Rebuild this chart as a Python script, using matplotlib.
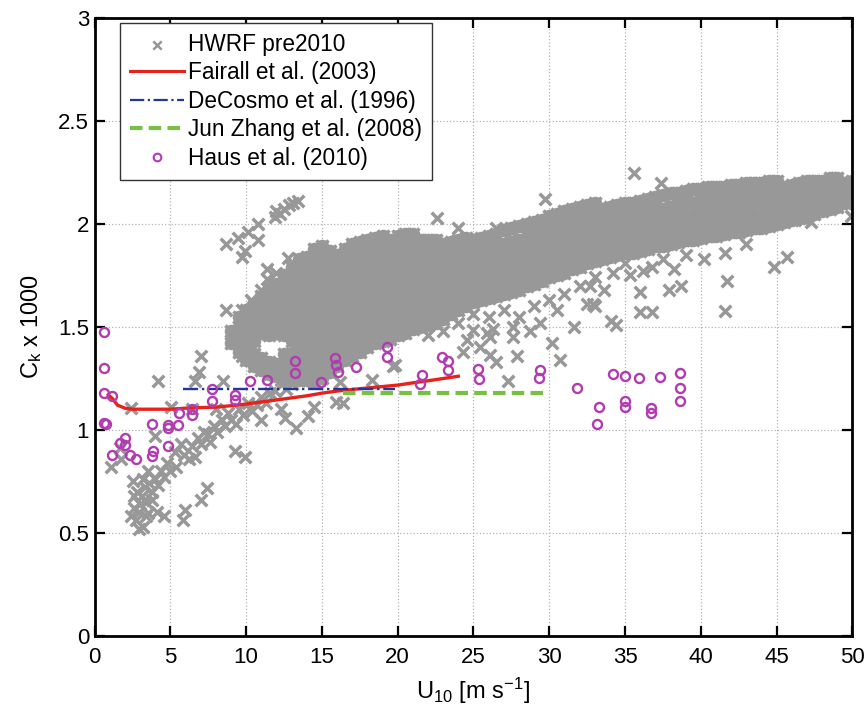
import numpy as np
import matplotlib
matplotlib.use("Agg")
from matplotlib import pyplot as plt

# HWRF pre2010 dense band: one column of Ck values per U10 position
band_u = [9.0, 9.5, 10.0, 10.5, 11.0, 11.5, 12.0, 12.5, 13.0, 13.5, 14.0, 14.5, 15.0, 15.5,
          16.0, 16.5, 17.0, 17.5, 18.0, 18.5, 19.0, 19.5, 20.0, 20.5, 21.0, 21.5, 22.0, 22.5,
          23.0, 23.5, 24.0, 24.5, 25.0, 25.5, 26.0, 26.5, 27.0, 27.5, 28.0, 28.5, 29.0, 29.5,
          30.0, 30.5, 31.0, 31.5, 32.0, 32.5, 33.0, 33.5, 34.0, 34.5, 35.0, 35.5, 36.0, 36.5,
          37.0, 37.5, 38.0, 38.5, 39.0, 39.5, 40.0, 40.5, 41.0, 41.5, 42.0, 42.5, 43.0, 43.5,
          44.0, 44.5, 45.0, 45.5, 46.0, 46.5, 47.0, 47.5, 48.0, 48.5, 49.0, 49.5, 50.0]
band_ck = [
    [1.42, 1.48],
    [1.38, 1.44, 1.50, 1.55],
    [1.34, 1.40, 1.46, 1.52, 1.58],
    [1.31, 1.37, 1.43, 1.49, 1.55, 1.61],
    [1.29, 1.35, 1.47, 1.53, 1.59, 1.65],
    [1.27, 1.33, 1.46, 1.52, 1.58, 1.64, 1.69],
    [1.26, 1.32, 1.47, 1.53, 1.59, 1.65, 1.71],
    [1.25, 1.31, 1.37, 1.46, 1.52, 1.58, 1.64, 1.70, 1.75],
    [1.25, 1.31, 1.37, 1.43, 1.49, 1.55, 1.61, 1.67, 1.73, 1.79],
    [1.24, 1.30, 1.36, 1.42, 1.48, 1.54, 1.60, 1.66, 1.72, 1.78, 1.83],
    [1.24, 1.30, 1.36, 1.42, 1.48, 1.54, 1.60, 1.66, 1.72, 1.78, 1.84],
    [1.23, 1.29, 1.35, 1.41, 1.47, 1.53, 1.59, 1.65, 1.71, 1.77, 1.83, 1.88],
    [1.25, 1.31, 1.37, 1.43, 1.49, 1.55, 1.61, 1.67, 1.73, 1.79, 1.85, 1.89],
    [1.28, 1.34, 1.40, 1.46, 1.52, 1.58, 1.64, 1.70, 1.76, 1.82, 1.87],
    [1.31, 1.37, 1.43, 1.49, 1.55, 1.61, 1.67, 1.73, 1.79, 1.85],
    [1.34, 1.40, 1.46, 1.52, 1.58, 1.64, 1.70, 1.76, 1.82, 1.88],
    [1.36, 1.42, 1.48, 1.54, 1.60, 1.66, 1.72, 1.78, 1.84, 1.90],
    [1.38, 1.44, 1.50, 1.56, 1.62, 1.68, 1.74, 1.80, 1.86, 1.91],
    [1.40, 1.46, 1.52, 1.58, 1.64, 1.70, 1.76, 1.82, 1.88, 1.92],
    [1.42, 1.48, 1.54, 1.60, 1.66, 1.72, 1.78, 1.84, 1.90, 1.93],
    [1.43, 1.49, 1.55, 1.61, 1.67, 1.73, 1.79, 1.85, 1.91, 1.94],
    [1.44, 1.50, 1.56, 1.62, 1.68, 1.74, 1.80, 1.86, 1.92],
    [1.46, 1.52, 1.58, 1.64, 1.70, 1.76, 1.82, 1.88, 1.94],
    [1.47, 1.53, 1.59, 1.65, 1.71, 1.77, 1.83, 1.89, 1.95],
    [1.49, 1.55, 1.61, 1.67, 1.73, 1.79, 1.85, 1.91, 1.95],
    [1.50, 1.56, 1.62, 1.68, 1.74, 1.80, 1.86, 1.92],
    [1.51, 1.57, 1.63, 1.69, 1.75, 1.81, 1.87, 1.92],
    [1.52, 1.58, 1.64, 1.70, 1.76, 1.82, 1.88, 1.92],
    [1.54, 1.60, 1.66, 1.72, 1.78, 1.84, 1.90],
    [1.56, 1.62, 1.68, 1.74, 1.80, 1.86, 1.91],
    [1.58, 1.64, 1.70, 1.76, 1.82, 1.88, 1.92],
    [1.60, 1.66, 1.72, 1.78, 1.84, 1.90, 1.93],
    [1.62, 1.68, 1.74, 1.80, 1.86, 1.92],
    [1.63, 1.69, 1.75, 1.81, 1.87, 1.93],
    [1.64, 1.70, 1.76, 1.82, 1.88, 1.94],
    [1.65, 1.71, 1.77, 1.83, 1.89, 1.95],
    [1.66, 1.72, 1.78, 1.84, 1.90, 1.97],
    [1.67, 1.73, 1.79, 1.85, 1.91, 1.98],
    [1.68, 1.74, 1.80, 1.86, 1.92, 1.99],
    [1.70, 1.76, 1.82, 1.88, 1.94, 2.00],
    [1.71, 1.77, 1.83, 1.89, 1.95, 2.01],
    [1.72, 1.78, 1.84, 1.90, 1.96, 2.02],
    [1.74, 1.80, 1.86, 1.92, 1.98, 2.04],
    [1.75, 1.81, 1.87, 1.93, 1.99, 2.05],
    [1.76, 1.82, 1.88, 1.94, 2.00, 2.06],
    [1.78, 1.84, 1.90, 1.96, 2.02, 2.07],
    [1.79, 1.85, 1.91, 1.97, 2.03, 2.08],
    [1.81, 1.87, 1.93, 1.99, 2.05, 2.09],
    [1.82, 1.88, 1.94, 2.00, 2.06, 2.10],
    [1.83, 1.89, 1.95, 2.01, 2.07],
    [1.84, 1.90, 1.96, 2.02, 2.08],
    [1.85, 1.91, 1.97, 2.03, 2.09],
    [1.86, 1.92, 1.98, 2.04, 2.10],
    [1.86, 1.92, 1.98, 2.04, 2.10],
    [1.87, 1.93, 1.99, 2.05, 2.11],
    [1.88, 1.94, 2.00, 2.06, 2.12],
    [1.89, 1.95, 2.01, 2.07, 2.13],
    [1.89, 1.95, 2.01, 2.07, 2.14],
    [1.90, 1.96, 2.02, 2.08, 2.15],
    [1.91, 1.97, 2.03, 2.09, 2.15],
    [1.92, 1.98, 2.04, 2.10, 2.16],
    [1.92, 1.98, 2.04, 2.10, 2.17],
    [1.93, 1.99, 2.05, 2.11, 2.17],
    [1.94, 2.00, 2.06, 2.12, 2.18],
    [1.94, 2.00, 2.06, 2.12, 2.18],
    [1.95, 2.01, 2.07, 2.13, 2.18],
    [1.96, 2.02, 2.08, 2.14, 2.19],
    [1.96, 2.02, 2.08, 2.14, 2.19],
    [1.97, 2.03, 2.09, 2.15, 2.20],
    [1.98, 2.04, 2.10, 2.16, 2.20],
    [1.98, 2.04, 2.10, 2.16, 2.20],
    [1.99, 2.05, 2.11, 2.17, 2.21],
    [2.00, 2.06, 2.12, 2.17, 2.21],
    [2.01, 2.07, 2.13, 2.18],
    [2.02, 2.08, 2.14, 2.19],
    [2.03, 2.09, 2.15, 2.20],
    [2.04, 2.10, 2.16, 2.21],
    [2.05, 2.11, 2.17, 2.21],
    [2.06, 2.12, 2.18, 2.21],
    [2.07, 2.13, 2.18, 2.22],
    [2.08, 2.14, 2.19, 2.22],
    [2.10, 2.15, 2.20],
    [2.12, 2.17, 2.21],
]

# HWRF pre2010 points outside the dense band (low-wind arm, tail and strays)
hwrf_u = [2.9, 3.1, 3.3, 3.6, 4.0, 4.4, 4.8, 5.3, 5.7, 6.2, 6.6, 7.0, 7.5, 7.9, 8.4, 8.8, 9.5, 10.1,
          11.0, 11.9, 12.3, 3.4, 3.8, 4.2, 4.6, 5.0, 5.4, 5.9, 6.4, 6.8, 7.2, 7.6, 8.1, 8.6, 9.0,
          9.3, 9.8, 10.4, 10.7, 11.3, 11.6, 12.6, 13.0,
          2.6, 2.7, 2.9, 3.2, 3.0, 3.4, 2.8, 3.5, 3.8, 4.1, 2.5, 2.6, 3.2, 2.4,
          4.18, 7.0, 6.9, 6.6, 8.5, 3.96, 2.4, 5.07, 6.4, 8.0, 1.1, 1.76, 1.65, 7.4, 7.05, 5.95,
          5.83, 4.6, 3.5, 9.25, 9.9, 11.0, 12.55, 13.3, 14.1, 14.5, 15.96, 12.3, 9.7, 9.7, 8.7, 9.7,
          8.7, 9.47, 10.1, 10.8, 10.8, 9.7, 9.9,
          11.9, 12.2, 12.5, 12.8, 13.1, 13.4, 12.0,
          12.75, 13.2, 12.35, 11.4, 11.0, 10.35, 11.4, 12.0,
          29.7, 22.6, 24.0, 26.5, 17.1, 17.5,
          18.3, 16.2, 16.4, 19.7, 17.5, 19.8,
          27.6, 28.7, 30.2, 30.7, 27.3, 27.85, 26.5, 26.1, 24.3, 25.4, 24.55, 25.9, 26.3, 31.6,
          29.4, 32.5, 33.0, 25.0, 26.1, 27.6, 23.0, 22.0, 24.0, 28.0, 29.0, 30.0, 31.0, 30.5,
          27.0, 26.0, 25.0, 32.0, 33.0,
          35.6, 37.4, 36.0, 36.0, 36.8, 34.1, 34.4, 37.9, 38.7, 41.7, 41.6, 44.8, 45.7, 41.6,
          40.2, 35.3, 36.2, 36.8, 38.2, 32.9, 33.6, 34.2, 32.7, 49.9, 46.8, 47.3, 39.0, 43.0,
          35.0, 37.5]
hwrf_ck = [0.60, 0.68, 0.72, 0.74, 0.76, 0.80, 0.84, 0.89, 0.93, 0.86, 0.87, 0.93, 0.98, 1.02, 1.05,
           1.08, 1.10, 1.13, 1.16, 1.19, 1.24, 0.65, 0.70, 0.73, 0.77, 0.80, 0.82, 0.88, 0.92, 0.96,
           0.99, 0.94, 0.99, 1.02, 1.05, 1.03, 1.07, 1.09, 1.12, 1.13, 1.18, 1.20, 1.22,
           0.62, 0.56, 0.52, 0.53, 0.64, 0.58, 0.70, 0.80, 0.66, 0.60, 0.75, 0.68, 0.76, 0.58,
           1.235, 1.36, 1.28, 1.235, 1.235, 0.968, 1.105, 1.113, 1.10, 1.10, 0.82, 0.86, 0.91,
           0.717, 0.66, 0.61, 0.563, 0.58, 0.596, 0.895, 0.87, 1.05, 1.057, 1.008, 1.065, 1.113,
           1.137, 1.10, 1.356, 1.485, 1.58, 1.58,
           1.90, 1.93, 1.96, 2.00, 1.92, 1.84, 1.87,
           2.035, 2.05, 2.07, 2.09, 2.10, 2.11, 2.06,
           1.835, 1.79, 1.74, 1.73, 1.68, 1.63, 1.78, 1.76,
           2.12, 2.03, 1.98, 1.98, 1.88, 1.87,
           1.24, 1.23, 1.13, 1.31, 1.39, 1.315,
           1.45, 1.48, 1.42, 1.34, 1.235, 1.356, 1.33, 1.365, 1.38, 1.40, 1.437, 1.47, 1.49, 1.50,
           1.52, 1.61, 1.60, 1.485, 1.45, 1.50, 1.48, 1.46, 1.52, 1.55, 1.60, 1.63, 1.66, 1.58,
           1.58, 1.55, 1.56, 1.70, 1.74,
           2.246, 2.20, 1.67, 1.57, 1.57, 1.53, 1.51, 1.68, 1.70, 1.72, 1.575, 1.79, 1.84, 1.86,
           1.83, 1.75, 1.77, 1.79, 1.78, 1.61, 1.68, 1.76, 1.70, 2.04, 2.02, 2.01, 1.85, 1.90,
           1.81, 1.83]

# Fairall et al. (2003)
fairall_u = [0.9, 1.2, 1.5, 2.0, 2.5, 3.0, 4.0, 5.0, 6.0, 7.0, 8.0, 9.0, 10.0, 11.0, 12.0, 13.0,
             14.0, 15.0, 16.0, 17.0, 18.0, 19.0, 20.0, 21.0, 22.0, 23.0, 24.0]
fairall_ck = [1.17, 1.15, 1.12, 1.105, 1.10, 1.10, 1.10, 1.10, 1.105, 1.108, 1.11, 1.117, 1.125,
              1.135, 1.145, 1.155, 1.165, 1.178, 1.188, 1.196, 1.203, 1.21, 1.217, 1.228, 1.238,
              1.249, 1.26]

# DeCosmo et al. (1996) and Jun Zhang et al. (2008)
decosmo_u = [5.8, 19.8]
decosmo_ck = [1.2, 1.2]
zhang_u = [16.4, 29.8]
zhang_ck = [1.18, 1.18]

# Haus et al. (2010)
haus_u = [0.61, 0.61, 0.61, 1.17, 0.73, 0.65, 3.81, 1.98, 1.65, 1.98, 1.17, 2.31, 2.71, 3.85, 3.81,
          4.84, 4.84, 4.84, 5.5, 5.57, 6.45, 6.45, 7.77, 7.77, 9.25, 9.25, 10.28, 11.38, 13.21, 13.21,
          14.97, 15.85, 15.96, 16.07, 17.28, 19.26, 19.26, 21.57, 21.47, 22.9, 23.34, 23.34, 25.32,
          25.39, 29.39, 29.35, 31.8, 33.25, 33.14, 34.2, 35.0, 35.0, 35.0, 35.9, 36.72, 36.72,
          37.32, 38.64, 38.64, 38.64]
haus_ck = [1.477, 1.30, 1.18, 1.165, 1.03, 1.035, 1.03, 0.96, 0.935, 0.927, 0.88, 0.88, 0.86, 0.895,
           0.874, 1.024, 1.008, 0.92, 1.024, 1.08, 1.10, 1.073, 1.198, 1.142, 1.17, 1.146, 1.235,
           1.243, 1.336, 1.275, 1.23, 1.348, 1.316, 1.283, 1.307, 1.404, 1.353, 1.267, 1.223, 1.353,
           1.336, 1.288, 1.295, 1.246, 1.288, 1.251, 1.202, 1.113, 1.03, 1.272, 1.259, 1.142, 1.113,
           1.251, 1.105, 1.084, 1.256, 1.275, 1.202, 1.141]


def main() -> None:
    plt.rcParams['font.family'] = ['Liberation Sans', 'DejaVu Sans']
    plt.rcParams['mathtext.default'] = 'regular'

    fig = plt.figure(figsize=(8.68, 7.12), dpi=100)
    ax = fig.add_axes([0.109, 0.107, 0.873, 0.868])

    # flatten the band columns
    band_x = np.concatenate([np.full(len(c), u) for u, c in zip(band_u, band_ck)])
    band_y = np.concatenate([np.array(c) for c in band_ck])

    gray = '#989898'
    # the band is so dense in the original that the crosses merge into one patch
    ax.scatter(band_x, band_y, marker='o', s=95, linewidths=0, color=gray, zorder=2)
    ax.scatter(band_x, band_y, marker='x', s=75, linewidths=2.5, color=gray, zorder=2)
    ax.scatter(hwrf_u, hwrf_ck, marker='x', s=70, linewidths=2.5, color=gray, zorder=2)

    ax.plot(fairall_u, fairall_ck, color='#e8221b', lw=2.4, zorder=3)
    ax.plot(decosmo_u, decosmo_ck, color='#23379a', lw=1.7, ls='-.', zorder=3)
    ax.plot(zhang_u, zhang_ck, color='#76c043', lw=3.0, ls=(0, (3, 1.5)), zorder=3)
    ax.plot(haus_u, haus_ck, ls='none', marker='o', ms=6.5, mfc='none', mec='#b03cb0', mew=1.7, zorder=4)

    ax.set_xlim(0, 50)
    ax.set_ylim(0, 3)
    ax.set_xticks(range(0, 51, 5))
    ax.set_yticks([0, 0.5, 1, 1.5, 2, 2.5, 3])
    ax.set_yticklabels(['0', '0.5', '1', '1.5', '2', '2.5', '3'])
    ax.grid(True, ls=':', color='#b4b4b4', lw=0.9)
    ax.set_axisbelow(True)
    ax.tick_params(direction='in', length=7, width=1.6, top=True, right=True, labelsize=16)
    ax.tick_params(axis='x', pad=8)
    ax.tick_params(axis='y', pad=4)
    for sp in ax.spines.values():
        sp.set_linewidth(2)

    ax.set_xlabel(r'U$_{10}$ [m s$^{-1}$]', fontsize=17, labelpad=6)
    ax.set_ylabel(r'C$_{k}$ x 1000', fontsize=17, labelpad=10)

    # legend handles built the same way as the plotted series
    h_hwrf = ax.scatter([], [], marker='x', s=36, linewidths=1.8, color=gray)
    h_fair, = ax.plot([], [], color='#e8221b', lw=2.2)
    h_deco, = ax.plot([], [], color='#23379a', lw=1.6, ls='-.')
    h_zh, = ax.plot([], [], color='#76c043', lw=3.0, ls=(0, (3, 1.5)))
    h_haus, = ax.plot([], [], ls='none', marker='o', ms=5.5, mfc='none', mec='#b03cb0', mew=1.5)
    leg = ax.legend([h_hwrf, h_fair, h_deco, h_zh, h_haus],
                    ['HWRF pre2010', 'Fairall et al. (2003)', 'DeCosmo et al. (1996)',
                     'Jun Zhang et al. (2008)', 'Haus et al. (2010)'],
                    loc='upper left', bbox_to_anchor=(0.033, 0.992), borderaxespad=0,
                    fontsize=16.3, handlelength=2.4, handletextpad=0.15, labelspacing=0.24,
                    borderpad=0.45, fancybox=False, framealpha=1, edgecolor='#333333')
    leg.get_frame().set_linewidth(1.0)

    fig.savefig('out.png', dpi=100)


if __name__ == "__main__":
    main()
